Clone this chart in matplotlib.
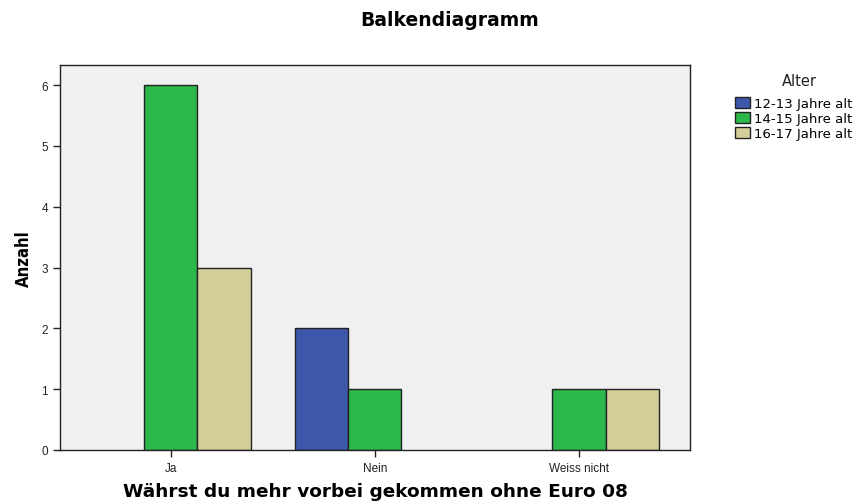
import matplotlib
matplotlib.use('Agg')
import matplotlib.pyplot as plt
import numpy as np

kategorien = ['Ja', 'Nein', 'Weiss nicht']
gruppen = ['12-13 Jahre alt', '14-15 Jahre alt', '16-17 Jahre alt']
werte_12_13 = [0, 2, 0]
werte_14_15 = [6, 1, 1]
werte_16_17 = [3, 0, 1]
farben = ['#3D57AB', '#2DB84B', '#D4CF98']

plt.rcParams['font.family'] = ['Liberation Sans', 'DejaVu Sans']

fig = plt.figure(figsize=(8.64, 5.02), dpi=100)
ax = fig.add_axes([0.0694, 0.1016, 0.7292, 0.767])
ax.set_facecolor('#F0F0F0')

x = np.arange(len(kategorien))
breite = 0.26
for i, (werte, name) in enumerate(zip([werte_12_13, werte_14_15, werte_16_17], gruppen)):
    werte = np.array(werte, dtype=float)
    # leere Balken nicht zeichnen
    sichtbar = werte > 0
    ax.bar(x[sichtbar] + (i - 1) * breite, werte[sichtbar], breite, color=farben[i],
           edgecolor='#222222', linewidth=1.0, label=name, zorder=2)

ax.set_xlim(-0.544, 2.544)
ax.set_ylim(0, 6.33)
ax.set_yticks(range(0, 7))
ax.set_xticks(x)
ax.set_xticklabels(kategorien)
ax.tick_params(axis='both', labelsize=8.5, colors='#222222', length=5, width=1)
for s in ax.spines.values():
    s.set_color('#222222')
    s.set_linewidth(1)

ax.set_xlabel('Währst du mehr vorbei gekommen ohne Euro 08', fontsize=13.3,
              fontweight='bold', family='DejaVu Sans', labelpad=6)
ax.set_ylabel('Anzahl', fontsize=12, fontweight='bold', family='DejaVu Sans',
              stretch='condensed', labelpad=6)
fig.text(0.52, 0.96, 'Balkendiagramm', ha='center', va='center',
         fontsize=13.5, fontweight='bold', family='DejaVu Sans')

# Legende mit separatem Titel
fig.text(799 / 864, 1 - 82 / 502, 'Alter', ha='center', va='center',
         fontsize=10.5, family='DejaVu Sans', color='#222222')
leg = ax.legend(loc='upper left',
                bbox_to_anchor=(735 / 864, 1 - 98 / 502), bbox_transform=fig.transFigure,
                frameon=False, handlelength=1.15, handleheight=0.85, handletextpad=0.3,
                labelspacing=0.15, borderaxespad=0, borderpad=0,
                prop={'family': 'DejaVu Sans', 'size': 9.5})

fig.savefig('out.png', dpi=100)
